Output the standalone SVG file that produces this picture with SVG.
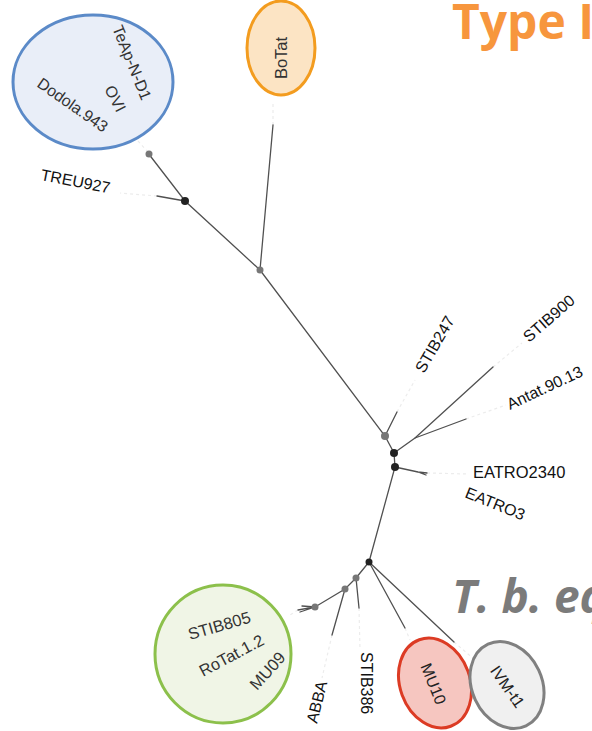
<svg xmlns="http://www.w3.org/2000/svg" width="592" height="731" viewBox="0 0 592 731">
<style>
.br{stroke:#505050;stroke-width:1.3;fill:none;stroke-linecap:round}
.lead{stroke:#ececec;stroke-width:1.2;fill:none;stroke-dasharray:3 3}
.lbl{font-family:"Liberation Sans",Arial,sans-serif;font-size:16px;fill:#111}
.in{font-family:"Liberation Sans",Arial,sans-serif;font-size:16px;fill:#333}
.dk{fill:#222}
.gy{fill:#777}
</style>
<rect width="592" height="731" fill="#fff"/>
<g id="title-type">
<text x="452" y="39" font-family="Open Sans, Liberation Sans, sans-serif" font-weight="bold" font-size="48" fill="#f7963d">Type I</text>
</g>
<g id="title-tb">
<text x="452" y="613" font-family="Open Sans, Liberation Sans, sans-serif" font-weight="bold" font-style="italic" font-size="46" fill="#7b7b7b">T. b. eq</text>
</g>
<g id="connectors">
<path class="lead" d="M148 152 L128 130"/>
<path class="lead" d="M157 196 L120 193"/>
<path class="lead" d="M273 125 L273 103"/>
<path class="lead" d="M397 412 L415 380"/>
<path class="lead" d="M493 367 L522 343"/>
<path class="lead" d="M466 419 L506 405"/>
<path class="lead" d="M427 473 L468 474"/>
<path class="lead" d="M298 610 L290 615"/>
<path class="lead" d="M332 635 L322 678"/>
<path class="lead" d="M359 608 L360 650"/>
<path class="lead" d="M405 628 L410 640"/>
<path class="lead" d="M454 642 L475 660"/>
<path class="br" d="M148 153 L185 201 L260 270 L385 436 L394 453 L395 467 L369 562"/>
<path class="br" d="M185 201 L157 196"/>
<path class="br" d="M260 270 L273 125"/>
<path class="br" d="M385 436 L397 412"/>
<path class="br" d="M394 453 L415 438 L493 367"/>
<path class="br" d="M415 438 L466 419"/>
<path class="br" d="M395 467 L418 472 L427 473 M418 472 L426 475"/>
<path class="br" d="M369 562 L356 578 L345 589 L315 607 L298 610 M315 607 L300 612 M315 607 L302 606"/>
<path class="br" d="M356 578 L359 608"/>
<path class="br" d="M345 589 L332 635"/>
<path class="br" d="M369 562 L405 628"/>
<path class="br" d="M369 562 L454 642"/>
<circle class="gy" cx="149" cy="154" r="3.5"/>
<circle class="dk" cx="185" cy="201" r="4"/>
<circle class="gy" cx="260" cy="270" r="3.5"/>
<circle class="gy" cx="385" cy="436" r="4"/>
<circle class="dk" cx="394" cy="453" r="4"/>
<circle class="dk" cx="395" cy="467" r="4"/>
<circle class="dk" cx="369" cy="562" r="3.5"/>
<circle class="gy" cx="356" cy="578" r="3.5"/>
<circle class="gy" cx="345" cy="589" r="3.5"/>
<circle class="gy" cx="315" cy="607" r="3.5"/>
</g>
<g id="node-blue">
<ellipse cx="93" cy="82" rx="80" ry="67" fill="#e9eef8" stroke="#5b8ac8" stroke-width="3"/>
<text class="in" transform="translate(112 28) rotate(68)">TeAp-N-D1</text>
<text class="in" transform="translate(104 89) rotate(62)">OVI</text>
<text class="in" transform="translate(36 86) rotate(35)">Dodola.943</text>
</g>
<g id="node-botat">
<ellipse cx="281" cy="48" rx="34" ry="47" fill="#fce4c4" stroke="#f39c1f" stroke-width="3"/>
<text class="in" transform="translate(287 58) rotate(-90)" text-anchor="middle" dy="0" style="font-size:16.5px">BoTat</text>
</g>
<g id="leaf-treu927"><text class="lbl" transform="translate(40 180) rotate(11)">TREU927</text></g>
<g id="leaf-stib247"><text class="lbl" transform="translate(424 374) rotate(-60)">STIB247</text></g>
<g id="leaf-stib900"><text class="lbl" transform="translate(529 343) rotate(-41)">STIB900</text></g>
<g id="leaf-antat"><text class="lbl" transform="translate(510 410) rotate(-25)">Antat.90.13</text></g>
<g id="leaf-eatro2340"><text class="lbl" x="473" y="478" style="font-size:16.5px">EATRO2340</text></g>
<g id="leaf-eatro3"><text class="lbl" transform="translate(464 497) rotate(22)">EATRO3</text></g>
<g id="node-green">
<ellipse cx="223" cy="654" rx="68" ry="69" fill="#f0f5e6" stroke="#8cc04b" stroke-width="3"/>
<text class="in" transform="translate(190 640) rotate(-16)" style="font-size:16.5px">STIB805</text>
<text class="in" transform="translate(203 677) rotate(-28)" style="font-size:16.5px">RoTat.1.2</text>
<text class="in" transform="translate(257 691) rotate(-48)" style="font-size:16.5px">MU09</text>
</g>
<g id="leaf-abba"><text class="lbl" transform="translate(317 724) rotate(-76)">ABBA</text></g>
<g id="leaf-stib386"><text class="lbl" transform="translate(361 652) rotate(90)">STIB386</text></g>
<g id="node-mu10">
<ellipse cx="435" cy="683" rx="35" ry="46" transform="rotate(-20 435 683)" fill="#f6c6c0" stroke="#dc3b24" stroke-width="3"/>
<text class="in" transform="translate(433 684) rotate(68)" text-anchor="middle" dy="5" style="fill:#222">MU10</text>
</g>
<g id="node-ivm">
<ellipse cx="507" cy="685" rx="35" ry="45" transform="rotate(-25 507 685)" fill="#f0f0f0" stroke="#808080" stroke-width="3"/>
<text class="in" transform="translate(507 687) rotate(55)" text-anchor="middle" dy="5" style="fill:#222">IVM-t1</text>
</g>
</svg>
